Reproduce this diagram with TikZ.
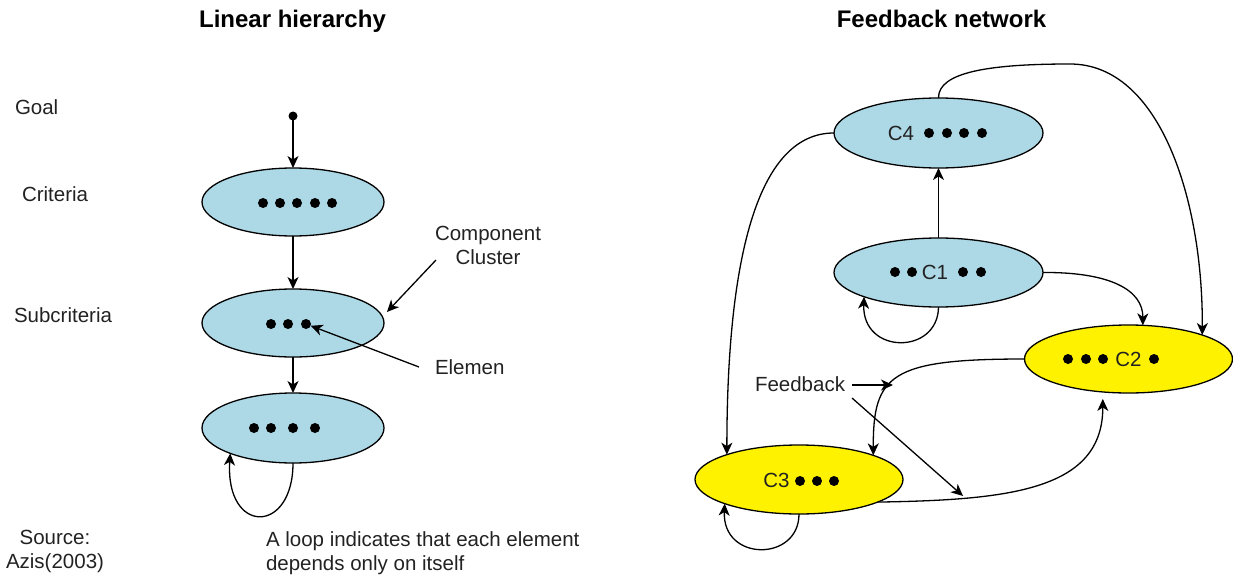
\documentclass[tikz,border=0pt]{standalone}
\usepackage{fontspec}
\setmainfont{Liberation Sans}
\usetikzlibrary{shapes.geometric,arrows.meta}
\definecolor{clusterblue}{HTML}{ADD8E6}
\definecolor{inkgray}{HTML}{222222}
\begin{document}
\begin{tikzpicture}[x=1pt,y=-1pt,
  every node/.style={inner sep=0pt, outer sep=0pt},
  txt/.style={font=\fontsize{20.5}{24}\selectfont, text=inkgray},
  ttl/.style={font=\fontsize{24}{28}\selectfont\bfseries, text=black},
  cluster/.style={ellipse, draw=black, line width=1.3pt, fill=clusterblue},
  hot/.style={ellipse, draw=black, line width=1.3pt, fill=yellow},
  elem/.style={circle, fill=black, minimum size=10pt},
  link/.style={line width=1.3pt, draw=black, -{Stealth[length=12pt,width=11pt,inset=3.5pt]}},
]
\useasboundingbox (0,0) rectangle (1233,575);

% ---------- titles ----------
\node[ttl, anchor=base] (t1) at (292.5,28) {Linear hierarchy};
\node[ttl, anchor=base] (t2) at (941.5,28) {Feedback network};

% ---------- linear hierarchy ----------
\node[txt, anchor=base west] (lgoal) at (15,114) {Goal};
\node[txt, anchor=base west] (lcrit) at (22,201) {Criteria};
\node[txt, anchor=base west] (lsub)  at (14,322) {Subcriteria};
\node[txt, anchor=north, align=center] (src) at (55,530) {Source:\\Azis(2003)};

\node[elem, minimum size=9pt] (g) at (293,116) {};
\node[cluster, minimum width=182pt, minimum height=68pt] (E1) at (293,202) {};
\node[cluster, minimum width=182pt, minimum height=68pt] (E2) at (293,323) {};
\node[cluster, minimum width=182pt, minimum height=70pt] (E3) at (293,428) {};

\foreach \x [count=\i] in {263,280,297,315,332} \node[elem] (d1\i) at (\x,203) {};
\foreach \x [count=\i] in {271,288,306} \node[elem] (d2\i) at (\x,324) {};
\foreach \x [count=\i] in {254,271,293,315} \node[elem] (d3\i) at (\x,428) {};

\draw[link] (g) -- (E1.north);
\draw[link] (E1.south) -- (E2.north);
\draw[link] (E2.south) -- (E3.north);
\draw[link] (E3.south) .. controls (293,535) and (225,535) .. (E3.202);

\node[txt, anchor=north, align=center] (cc) at (488,226) {Component\\Cluster};
\coordinate (ccx) at (436,260);
\draw[link, shorten >=6.5pt] (ccx) -- (E2.4);

\node[txt, anchor=base west] (el) at (435,374) {Elemen};
\coordinate (elx) at (419,367);
\draw[link] (elx) -- (d23);

\node[txt, anchor=north west, align=left] (note) at (266,532)
  {A loop indicates that each element\\depends only on itself};

% ---------- feedback network ----------
\node[cluster, minimum width=209pt, minimum height=70pt] (C4) at (938.5,133) {};
\node[cluster, minimum width=209pt, minimum height=69pt] (C1) at (938.5,272.5) {};
\node[hot, minimum width=208pt, minimum height=68pt] (C2) at (1128.5,359) {};
\node[hot, minimum width=208pt, minimum height=69pt] (C3) at (799,479.5) {};

\node[txt, anchor=base] (c4t) at (901,140) {C4};
\foreach \x [count=\i] in {929,947,964,982} \node[elem] (p4\i) at (\x,133) {};
\node[txt, anchor=base] (c1t) at (935,279) {C1};
\foreach \x [count=\i] in {895,912,963,981} \node[elem] (p1\i) at (\x,272) {};
\node[txt, anchor=base] (c2t) at (1128.5,366) {C2};
\foreach \x [count=\i] in {1068,1086,1103,1154} \node[elem] (p2\i) at (\x,359) {};
\node[txt, anchor=base] (c3t) at (776.5,487) {C3};
\foreach \x [count=\i] in {800,817,834} \node[elem] (p3\i) at (\x,481) {};

\draw[link] (C1.north) -- (C4.south);
\draw[link] (C1.south) .. controls (938,355) and (862,355) .. (C1.198);
\draw[link] (C3.south) .. controls (799,562) and (722,562) .. (C3.198);

\draw[link] (C4.north) .. controls (938,72) and (990,64) .. (1070,64)
  .. controls (1160,64) and (1203,200) .. (C2.18);
\draw[link] (C1.east) .. controls (1110,272) and (1143,290) .. (C2.67);
\draw[link] (C4.west) .. controls (760,133) and (727,250) .. (C3.161);
\draw[link] (C2.west) .. controls (890,359) and (873,375) .. (C3.18);
\draw[link, shorten >=7pt] (C3.344) .. controls (1010,500) and (1103,490) .. (C2.232);

\node[txt, anchor=base west] (fb) at (755,391) {Feedback};
\coordinate (fa1) at (852,385);
\coordinate (fa2) at (893,385);
\coordinate (fb1) at (852,398);
\coordinate (fb2) at (963,496);
\draw[link] (fa1) -- (fa2);
\draw[link] (fb1) -- (fb2);
\end{tikzpicture}
\end{document}
